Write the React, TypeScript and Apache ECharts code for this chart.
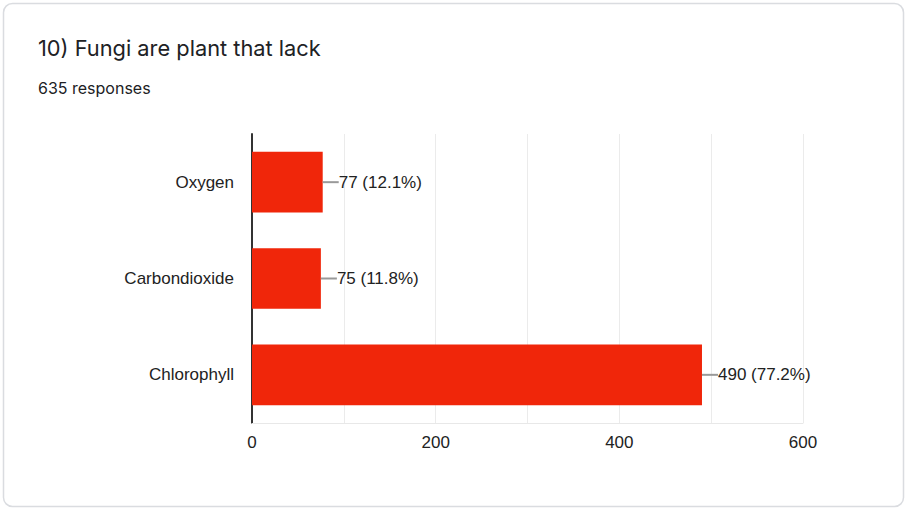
import React, { useEffect, useRef } from "react";
import * as echarts from "echarts";

const titleText = "10) Fungi are plant that lack";
const subtitleText = "635 responses";
const categories = ["Oxygen", "Carbondioxide", "Chlorophyll"];
const counts = [77, 75, 490];
const totalResponses = 635;

export default function App() {
  const ref = useRef<HTMLDivElement>(null);
  useEffect(() => {
    if (!ref.current) return;
    const chart = echarts.init(ref.current, null, { renderer: "svg" });
    const labelFont = "Arial, 'Liberation Sans', sans-serif";
    chart.setOption({
      animation: false,
      backgroundColor: "#ffffff",
      graphic: [
        {
          type: "rect",
          shape: { x: 3.5, y: 3.5, width: 900, height: 503, r: 9 },
          style: { fill: "#ffffff", stroke: "#dadce0", lineWidth: 1.5 },
          z: -10,
          silent: true,
        },
        {
          type: "text",
          left: 38,
          top: 37,
          style: { text: titleText, font: "400 21.8px Inter, Roboto, sans-serif", fill: "#202124" },
        },
        {
          type: "text",
          left: 38,
          top: 80,
          style: { text: subtitleText, font: "400 16px Inter, Roboto, sans-serif", fill: "#202124" },
        },
      ],
      grid: { left: 252, right: 103, top: 134, bottom: 86, containLabel: false },
      xAxis: {
        type: "value",
        min: 0,
        max: 600,
        interval: 100,
        axisLine: { show: true, lineStyle: { color: "#e8e8e8", width: 1 } },
        axisTick: { show: false },
        splitLine: { show: true, lineStyle: { color: "#ebebeb", width: 1 } },
        axisLabel: {
          formatter: (v: number) => (v % 200 === 0 ? String(v) : ""),
          fontSize: 17,
          color: "#222222",
          fontFamily: labelFont,
          margin: 11,
          showMaxLabel: true,
        },
      },
      yAxis: {
        type: "category",
        data: categories,
        inverse: true,
        axisLine: { show: true, lineStyle: { color: "#333333", width: 2 } },
        axisTick: { show: false },
        axisLabel: { fontSize: 17, color: "#222222", fontFamily: labelFont, margin: 18 },
      },
      series: [
        {
          type: "bar",
          data: counts,
          barWidth: "63%",
          itemStyle: { color: "#f0260a" },
          label: {
            show: true,
            position: "right",
            distance: 16,
            fontSize: 17,
            color: "#222222",
            fontFamily: labelFont,
            formatter: (p: any) =>
              `${p.value} (${((p.value / totalResponses) * 100).toFixed(1)}%)`,
          },
          z: 2,
        },
        {
          type: "custom",
          data: counts.map((c, i) => [c, i]),
          encode: { x: 0, y: 1 },
          z: 3,
          silent: true,
          renderItem: (params: any, api: any) => {
            const pt = api.coord([api.value(0), api.value(1)]);
            return {
              type: "line",
              shape: { x1: pt[0], y1: pt[1], x2: pt[0] + 16, y2: pt[1] },
              style: { stroke: "#999999", lineWidth: 2 },
            };
          },
        },
      ],
    });
    return () => chart.dispose();
  }, []);
  return (
    <div
      ref={ref}
      style={{ position: "fixed", left: 0, top: 0, width: 906, height: 509 }}
    />
  );
}
